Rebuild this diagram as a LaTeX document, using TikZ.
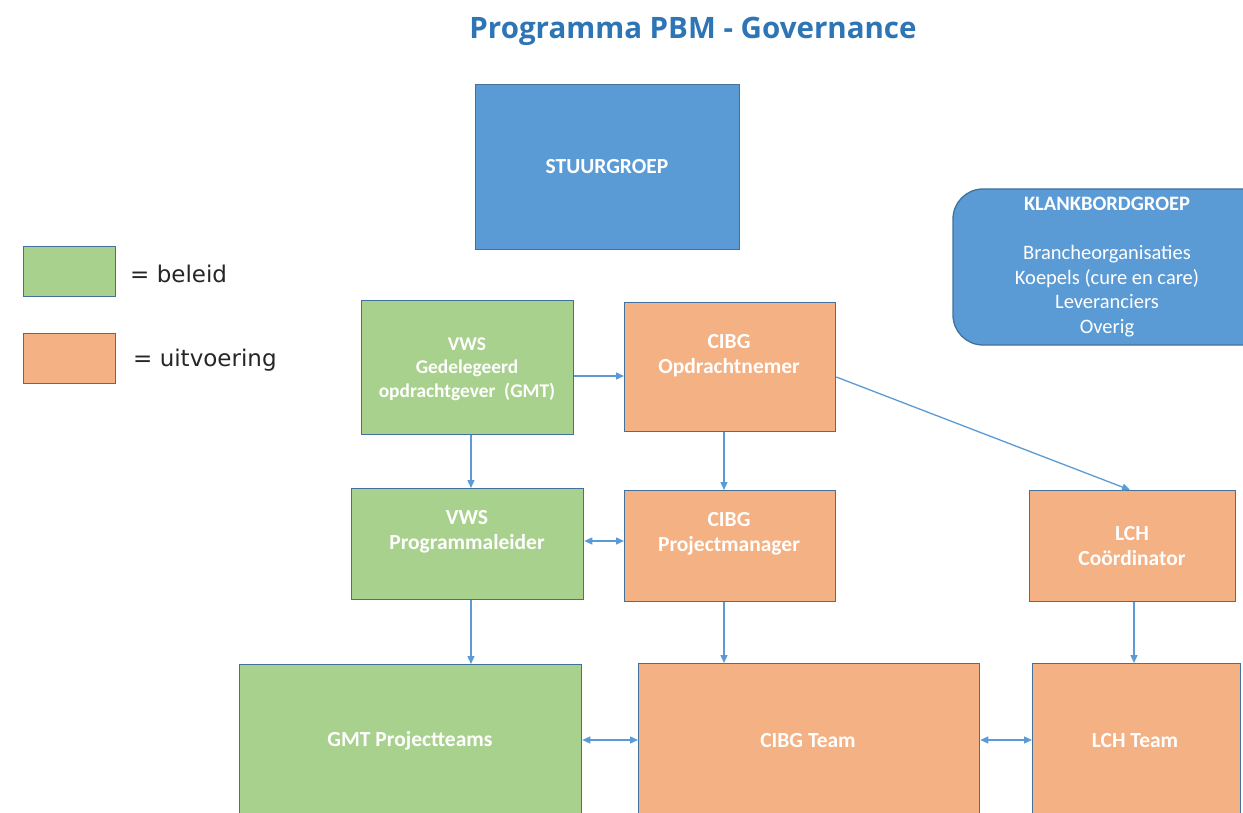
\documentclass[tikz,border=0pt]{standalone}
\usepackage{fontspec}
\setmainfont{Carlito}
\newfontfamily\titlefont{Open Sans}
\newfontfamily\legfont{DejaVu Sans}
\usetikzlibrary{arrows.meta}
\definecolor{bluefill}{HTML}{5B9BD5}
\definecolor{blueedge}{HTML}{41719C}
\definecolor{greenfill}{HTML}{A9D18E}
\definecolor{orangefill}{HTML}{F4B183}
\definecolor{titleblue}{HTML}{2E75B6}
\definecolor{arrowblue}{HTML}{5B9BD5}
\definecolor{legtext}{HTML}{262626}
\tikzset{
  box/.style={draw=blueedge, line width=1.3pt, inner sep=0pt, anchor=north west},
  gbox/.style={box, fill=greenfill},
  obox/.style={box, fill=orangefill},
  bbox/.style={box, fill=bluefill},
  boxtext/.style={text=white, font=\bfseries\fontsize{21.5}{25}\selectfont, align=center, inner sep=0pt},
  smalltext/.style={text=white, font=\bfseries\fontsize{19.4}{23.5}\selectfont, align=center, inner sep=0pt},
  conn/.style={draw=arrowblue, line width=1.3pt, -{Triangle[length=8pt,width=7pt]}},
  dconn/.style={draw=arrowblue, line width=1.3pt, {Triangle[length=8pt,width=7pt]}-{Triangle[length=8pt,width=7pt]}},
  legtxt/.style={text=legtext, font=\legfont\fontsize{23}{27}\selectfont, anchor=west, inner sep=0pt}
}
\begin{document}
\begin{tikzpicture}[x=1pt,y=-1pt]
\useasboundingbox (0,0) rectangle (1243,813);
\fill[white] (0,0) rectangle (1243,813);
% title
\node[text=titleblue, font=\titlefont\bfseries\fontsize{29.5}{33}\selectfont, inner sep=0pt] (title) at (693,31) {Programma PBM - Governance};
% stuurgroep
\node[bbox, minimum width=264pt, minimum height=165pt] (stuur) at (475,84) {};
\node[boxtext] (stuurt) at (607,167) {STUURGROEP};
% klankbordgroep
\draw[draw=blueedge, line width=1.3pt, fill=bluefill, rounded corners=30pt] (1270,189) -- (953,189) -- (953,345) -- (1270,345);
\node[text=white, font=\fontsize{20.5}{24.5}\selectfont, align=center, inner sep=0pt] (klank) at (1107,267) {{\bfseries KLANKBORDGROEP}\\[24.5pt]Brancheorganisaties\\Koepels (cure en care)\\Leveranciers\\Overig};
% legend
\node[gbox, minimum width=92pt, minimum height=50pt] (legg) at (23,246) {};
\node[legtxt] (leggt) at (130,274) {= beleid};
\node[obox, minimum width=92pt, minimum height=50pt] (lego) at (23,333) {};
\node[legtxt] (legot) at (133,360) {= uitvoering};
% row 1
\node[gbox, minimum width=212pt, minimum height=134pt] (vwsg) at (361,300) {};
\node[smalltext] (vwsgt) at (467,369) {VWS\\Gedelegeerd\\opdrachtgever\ \ (GMT)};
\node[obox, minimum width=211pt, minimum height=129pt] (cibgo) at (624,302) {};
\node[boxtext] (cibgot) at (729,356) {CIBG\\Opdrachtnemer};
% row 2
\node[gbox, minimum width=232pt, minimum height=111pt] (vwsp) at (351,488) {};
\node[boxtext] (vwspt) at (467,532) {VWS\\Programmaleider};
\node[obox, minimum width=211pt, minimum height=111pt] (cibgp) at (624,490) {};
\node[boxtext] (cibgpt) at (729,534) {CIBG\\Projectmanager};
\node[obox, minimum width=206pt, minimum height=111pt] (lchc) at (1029,490) {};
\node[boxtext] (lchct) at (1132,546) {LCH\\Coördinator};
% row 3
\node[gbox, minimum width=342pt, minimum height=170pt] (gmt) at (239,664) {};
\node[boxtext] (gmtt) at (410,741) {GMT Projectteams};
\node[obox, minimum width=341pt, minimum height=170pt] (cibgt) at (638,663) {};
\node[boxtext] (cibgtt) at (808,741) {CIBG Team};
\node[obox, minimum width=208pt, minimum height=170pt] (lcht) at (1032,663) {};
\node[boxtext] (lchtt) at (1135,741) {LCH Team};
% connectors
\draw[conn] (vwsg.east |- 0,376) -- (cibgo.west |- 0,376);
\draw[conn] (vwsg.south -| 471,0) -- (vwsp.north -| 471,0);
\draw[conn] (cibgo.south -| 724,0) -- (cibgp.north -| 724,0);
\draw[conn] (cibgo.east |- 0,377) -- (lchc.north -| 1130,0);
\draw[dconn] (vwsp.east |- 0,541) -- (cibgp.west |- 0,541);
\draw[conn] (vwsp.south -| 471,0) -- (gmt.north -| 471,0);
\draw[conn] (cibgp.south -| 724,0) -- (cibgt.north -| 724,0);
\draw[conn] (lchc.south -| 1134,0) -- (lcht.north -| 1134,0);
\draw[dconn] (gmt.east |- 0,740) -- (cibgt.west |- 0,740);
\draw[dconn] (cibgt.east |- 0,740) -- (lcht.west |- 0,740);
\end{tikzpicture}
\end{document}
